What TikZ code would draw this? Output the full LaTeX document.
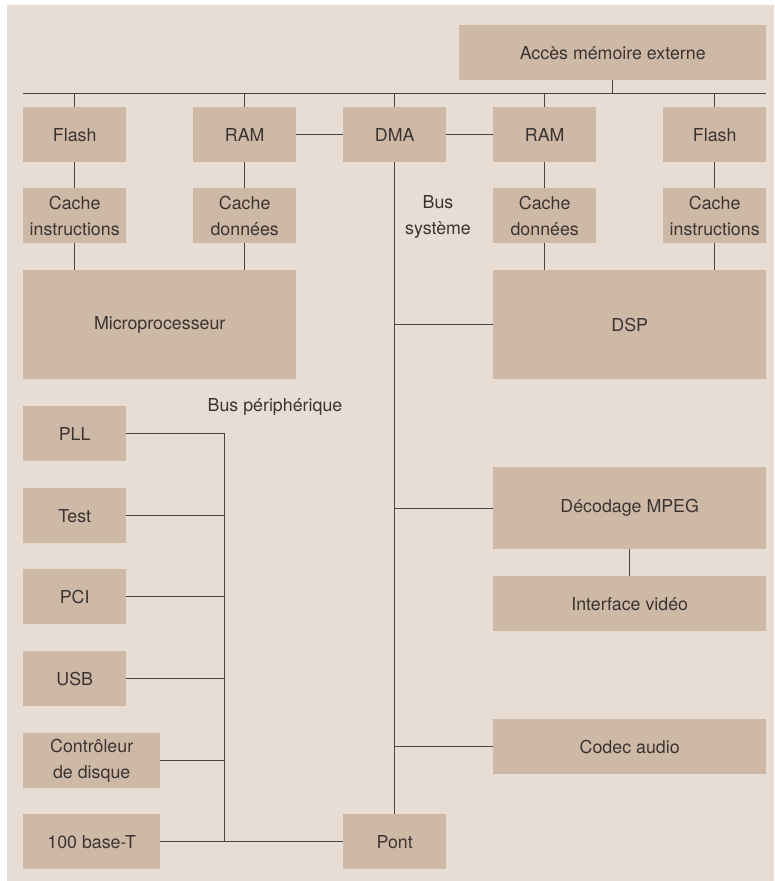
\documentclass[tikz,border=0pt]{standalone}
\usepackage{fontspec}
\setmainfont{TeX Gyre Heros}
\definecolor{bgc}{HTML}{E7DDD4}
\definecolor{boxc}{HTML}{CEB8A6}
\definecolor{linec}{HTML}{4A4441}
\definecolor{txtc}{HTML}{3B3532}
\begin{document}
\begin{tikzpicture}[x=1pt,y=-1pt,
  box/.style={fill=boxc, draw=none, inner sep=0pt, align=center, anchor=north west,
    text=txtc, font=\fontsize{17.8}{26}\selectfont},
  lbl/.style={inner sep=0pt, align=center, text=txtc, font=\fontsize{17.8}{26}\selectfont},
  wire/.style={draw=linec, line width=1pt}]
\useasboundingbox (0,0) rectangle (774,881);
\fill[bgc] (7,5) rectangle (774,881);
% top row
\node[box, minimum width=307pt, minimum height=55pt] (acces) at (459,25) {Accès mémoire externe};
\node[box, minimum width=103pt, minimum height=55pt] (flashL) at (23,107) {Flash};
\node[box, minimum width=103pt, minimum height=55pt] (ramL) at (193,107) {RAM};
\node[box, minimum width=103pt, minimum height=55pt] (dma) at (343,107) {DMA};
\node[box, minimum width=103pt, minimum height=55pt] (ramR) at (493,107) {RAM};
\node[box, minimum width=103pt, minimum height=55pt] (flashR) at (663,107) {Flash};
% caches
\node[box, minimum width=103pt, minimum height=55pt] (cacheIL) at (23,188) {Cache\\instructions};
\node[box, minimum width=103pt, minimum height=55pt] (cacheDL) at (193,188) {Cache\\données};
\node[box, minimum width=103pt, minimum height=55pt] (cacheDR) at (493,188) {Cache\\données};
\node[box, minimum width=103pt, minimum height=55pt] (cacheIR) at (663,188) {Cache\\instructions};
% processors
\node[box, minimum width=273pt, minimum height=109pt] (micro) at (23,270) {Microprocesseur};
\node[box, minimum width=273pt, minimum height=109pt] (dsp) at (493,270) {DSP};
% right side
\node[box, minimum width=273pt, minimum height=82pt] (mpeg) at (493,467) {Décodage MPEG};
\node[box, minimum width=273pt, minimum height=55pt] (video) at (493,576) {Interface vidéo};
\node[box, minimum width=273pt, minimum height=55pt] (codec) at (493,719) {Codec audio};
% peripherals
\node[box, minimum width=103pt, minimum height=55pt] (pll) at (23,406) {PLL};
\node[box, minimum width=103pt, minimum height=55pt] (test) at (23,488) {Test};
\node[box, minimum width=103pt, minimum height=55pt] (pci) at (23,569) {PCI};
\node[box, minimum width=103pt, minimum height=55pt] (usb) at (23,651) {USB};
\node[box, minimum width=137pt, minimum height=55pt] (disk) at (23,733) {Contrôleur\\de disque};
\node[box, minimum width=137pt, minimum height=55pt] (eth) at (23,814) {100 base-T};
\node[box, minimum width=103pt, minimum height=55pt] (pont) at (343,814) {Pont};
% labels
\node[lbl] (bsys) at (438,217) {Bus\\système};
\node[lbl] (bper) at (275,407) {Bus périphérique};
% bus coordinates
\coordinate (busL) at (23,93);
\coordinate (busR) at (766,93);
\coordinate (pvtop) at (224,433);
% connectors
\draw[wire] (busL) -- (busR);
\draw[wire] (acces.south) -- (acces.south |- busR);
\foreach \n in {flashL,ramL,dma,ramR,flashR}
  \draw[wire] (\n.north) -- (\n.north |- busL);
\draw[wire] (ramL.east) -- (dma.west);
\draw[wire] (dma.east) -- (ramR.west);
\draw[wire] (flashL.south) -- (cacheIL.north);
\draw[wire] (ramL.south) -- (cacheDL.north);
\draw[wire] (ramR.south) -- (cacheDR.north);
\draw[wire] (flashR.south) -- (cacheIR.north);
\draw[wire] (cacheIL.south) -- (cacheIL.south |- micro.north);
\draw[wire] (cacheDL.south) -- (cacheDL.south |- micro.north);
\draw[wire] (cacheDR.south) -- (cacheDR.south |- dsp.north);
\draw[wire] (cacheIR.south) -- (cacheIR.south |- dsp.north);
\draw[wire] (dma.south) -- (pont.north);
\draw[wire] (dma.south |- dsp.west) -- (dsp.west);
\draw[wire] (dma.south |- mpeg.west) -- (mpeg.west);
\draw[wire] (dma.south |- codec.west) -- (codec.west);
\draw[wire] (mpeg.south) -- (video.north);
\draw[wire] (pvtop) -- (pvtop |- eth.east);
\foreach \n in {pll,test,pci,usb,disk}
  \draw[wire] (\n.east) -- (\n.east -| pvtop);
\draw[wire] (eth.east) -- (pont.west);
\end{tikzpicture}
\end{document}
